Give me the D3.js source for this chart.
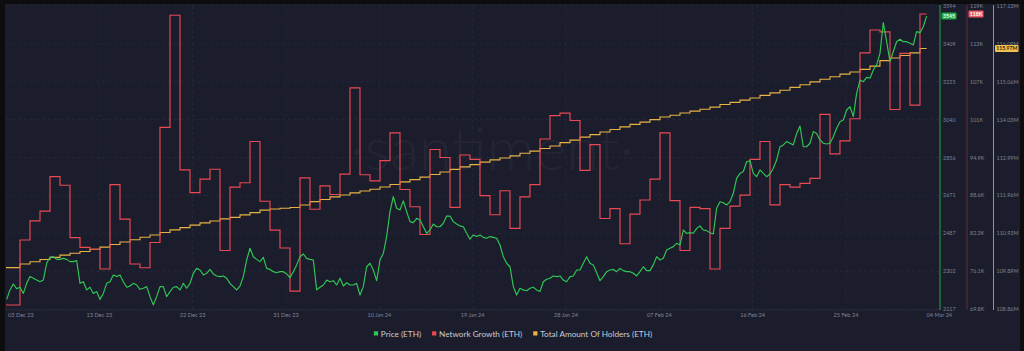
<!DOCTYPE html>
<html><head><meta charset="utf-8">
<script src="https://cdn.jsdelivr.net/npm/d3@7"></script>
<style>
html,body{margin:0;padding:0;background:#0d0d10;overflow:hidden;}
svg{display:block;}
text{font-family:Lato,"Open Sans",sans-serif;}
</style></head><body>
<svg id="c" width="1024" height="351"></svg>
<script>
// ---------- data ----------
const xTickLabels = ['03 Dec 23','13 Dec 23','22 Dec 23','31 Dec 23','10 Jan 24','19 Jan 24','28 Jan 24','07 Feb 24','16 Feb 24','25 Feb 24','04 Mar 24'];
const priceTicks = [2117, 2302, 2487, 2671, 2856, 3040, 3225, 3409, 3594];
const growthTickLabels = ['69.8K','76.1K','82.3K','88.6K','94.9K','101K','107K','113K','119K'];
const growthDomain = [69.8, 119];
const holdersTickLabels = ['108.86M','109.89M','110.93M','111.96M','112.99M','114.03M','115.06M','116.09M','117.13M'];
const holdersDomain = [108.86, 117.13];

// time axis in days (day 0 = first full day in view)
const viewDays = [-1.4, 91.933];
const priceStartDay = -4/3, priceStepDay = 1/3;   // 8-hourly samples
const dailyStartDay = -1.4, dataEndDay = 90.667;

// Price (ETH), USD, 8-hourly
const price = [
2164,2210,2239,2216,2223,2193,2242,2275,2267,2258,
2250,2258,2340,2369,2372,2359,2359,2364,2359,2348,
2348,2353,2242,2250,2210,2223,2193,2202,2164,2193,
2242,2250,2283,2275,2283,2250,2223,2229,2242,2234,
2213,2218,2226,2177,2137,2177,2226,2226,2177,2202,
2223,2226,2210,2242,2218,2242,2291,2315,2307,2283,
2291,2310,2288,2278,2275,2278,2267,2242,2226,2210,
2229,
2275,2356,2413,2372,2359,2348,2369,2315,2310,2299,
2294,2299,2299,2288,2270,2299,2332,2372,2385,2364,
2359,2356,2210,2223,2234,2258,2250,2255,2234,2267,
2229,2245,2234,2234,2242,2185,2226,2323,2340,2307,
2255,2356,2388,2470,2592,2665,2608,2600,2644,2592,
2543,2538,2559,2551,2518,2486,2502,2531,2518,2518,
2535,2570,2570,2543,2531,2522,2518,2486,2457,2478,
2470,2478,2466,2462,2470,2466,2462,2429,2372,2340,
2323,2226,2185,2218,2210,2206,2218,2223,2210,2202,
2250,2262,2267,2278,2275,2278,2258,2250,2275,2278,
2307,2307,2340,2372,2340,2332,2294,2255,2275,2299,
2307,2310,2299,2315,2304,2299,2299,2291,2278,2299,
2323,2304,2304,2332,2372,2356,2364,2405,2413,2421,
2437,2429,2502,2486,2489,2486,2510,2522,2502,2499,
2489,
2483,2608,2640,2635,2624,2640,2681,2754,2778,2787,
2835,2840,2778,2762,2795,2778,2762,2775,2803,2843,
2908,2917,2933,2925,2917,2973,3009,2908,2908,2925,
2982,2973,2941,2925,2921,2925,2957,2998,3030,3038,
3087,3103,3055,3168,3233,3225,3246,3242,3282,3307,
3363,3513,3420,3323,3372,3420,3432,3420,3420,3412,
3404,3469,3464,3493,3545
];

// Network Growth (ETH), thousands, daily
const growth = [
70.45,81.0,84.1,85.7,91.3,89.9,81.4,79.8,79.5,76.3,
90.0,84.4,77.1,76.5,80.6,99.3,117.5,92.4,88.7,90.9,
92.5,79.3,89.6,90.3,97.0,87.3,82.6,79.7,72.7,91.1,
86.0,89.8,88.4,91.7,105.7,91.6,90.6,93.9,98.4,89.2,
86.4,81.9,95.7,94.4,86.3,94.8,94.1,88.2,85.1,89.0,
82.9,88.0,90.0,97.4,101.2,101.6,100.4,92.3,96.5,84.5,
86.1,80.4,85.2,87.5,90.9,98.4,87.4,79.3,86.3,86.1,
76.3,82.9,86.5,88.3,94.1,97.0,86.7,90.0,89.6,90.2,
91.0,101.4,95.0,97.1,100.7,111.4,115.1,114.8,102.2,111.3,
102.9,117.7
];

// Total Amount Of Holders (ETH), millions, daily
const holders = [
109.99,110.09,110.15,110.21,110.27,110.33,110.38,110.43,110.49,110.55,
110.62,110.69,110.75,110.82,110.88,110.95,111.02,111.08,111.15,111.21,
111.26,111.32,111.36,111.43,111.49,111.56,111.59,111.61,111.63,111.70,
111.79,111.85,111.92,111.97,112.03,112.08,112.13,112.19,112.26,112.33,
112.39,112.46,112.53,112.60,112.67,112.74,112.80,112.87,112.93,112.98,
113.04,113.11,113.17,113.24,113.31,113.40,113.47,113.55,113.62,113.69,
113.76,113.83,113.90,113.96,114.03,114.10,114.15,114.21,114.26,114.31,
114.37,114.44,114.50,114.56,114.62,114.69,114.76,114.83,114.91,114.98,
115.06,115.13,115.20,115.27,115.33,115.40,115.49,115.64,115.71,115.78,
115.85,115.97
];

const seriesNames = ['Price (ETH)','Network Growth (ETH)','Total Amount Of Holders (ETH)'];
const seriesColors = ['#30c853','#eb4a52','#e9b443'];

// ---------- layout ----------
const svg = d3.select('#c');
const L = 6, R = 939.3, T = 6, B = 309;

svg.append('rect').attr('x',5).attr('y',4).attr('width',1015).attr('height',347).attr('fill','#1b1d2d');

const x = d3.scaleLinear().domain(viewDays).range([L, R]);
const yP = d3.scaleLinear().domain([priceTicks[0], priceTicks[priceTicks.length-1]]).range([B, T]);
const yG = d3.scaleLinear().domain(growthDomain).range([B, T]);
const yH = d3.scaleLinear().domain(holdersDomain).range([B, T]);

const nT = priceTicks.length - 1;
const frac = d3.range(nT + 1).map(i => i / nT);

// watermark
svg.append('text').attr('x', 492).attr('y', 170).attr('text-anchor','middle')
  .attr('font-size', 60).attr('font-weight', 300).attr('fill', 'rgba(255,255,255,0.035)')
  .text('·santiment·');

// grid
const grid = svg.append('g').attr('stroke','#2a2d3f').attr('stroke-width',0.7).attr('stroke-dasharray','3,3');
frac.forEach(f => {
  const yy = yP(priceTicks[0] + f * (priceTicks[nT] - priceTicks[0]));
  grid.append('line').attr('x1', L).attr('x2', 940).attr('y1', yy).attr('y2', yy);
});
const xTickDays = xTickLabels.map((_, i) => viewDays[0] + i * (viewDays[1] - viewDays[0]) / (xTickLabels.length - 1));
xTickDays.forEach((d, i) => {
  if (i === 0 || i === xTickDays.length - 1) return;
  grid.append('line').attr('x1', x(d)).attr('x2', x(d)).attr('y1', T).attr('y2', B + 1);
});
// bottom axis line
svg.append('line').attr('x1', L).attr('x2', 940).attr('y1', 310).attr('y2', 310).attr('stroke','#2c2f42').attr('stroke-width',0.8);

// x labels
svg.append('g').selectAll('text').data(xTickLabels).join('text')
  .attr('x', (d, i) => i === 0 ? 8 : x(xTickDays[i]))
  .attr('y', 317)
  .attr('text-anchor', (d, i) => i === 0 ? 'start' : 'middle')
  .attr('font-size', 5.6).attr('fill', '#7f8393').text(d => d);

// lines
svg.append('clipPath').attr('id','pc').append('rect').attr('x',L).attr('y',0).attr('width',R-L).attr('height',B+3);
const plot = svg.append('g').attr('clip-path','url(#pc)');

const dailyDay = i => i === 0 ? dailyStartDay : i - 1;
const stepPts = arr => { const p = arr.map((v, i) => [dailyDay(i), v]); p.push([dataEndDay, arr[arr.length-1]]); return p; };

plot.append('path').datum(stepPts(holders))
  .attr('d', d3.line().x(d => x(d[0])).y(d => yH(d[1])).curve(d3.curveStepAfter))
  .attr('fill','none').attr('stroke', seriesColors[2]).attr('stroke-width',1.1);

plot.append('path').datum(stepPts(growth))
  .attr('d', d3.line().x(d => x(d[0])).y(d => yG(d[1])).curve(d3.curveStepAfter))
  .attr('fill','none').attr('stroke', seriesColors[1]).attr('stroke-width',1.15);

plot.append('path').datum(price)
  .attr('d', d3.line().x((v, i) => x(priceStartDay + i * priceStepDay)).y(v => yP(v)))
  .attr('fill','none').attr('stroke', seriesColors[0]).attr('stroke-width',1.15).attr('stroke-linejoin','round');

// right axes
const axes = [
  {x: 940, color: '#2aa44b', labels: priceTicks.map(String), scale: yP, dom: [priceTicks[0], priceTicks[nT]]},
  {x: 967, color: '#6b2736', labels: growthTickLabels, scale: yG, dom: growthDomain},
  {x: 993.5, color: '#b8913c', labels: holdersTickLabels, scale: yH, dom: holdersDomain}
];
axes.forEach(a => {
  svg.append('line').attr('x1', a.x).attr('x2', a.x).attr('y1', 5).attr('y2', 310).attr('stroke', a.color).attr('stroke-width', 1);
  svg.append('g').selectAll('text').data(a.labels).join('text')
    .attr('x', a.x + 3).attr('y', (d, i) => a.scale(a.dom[0] + frac[i] * (a.dom[1] - a.dom[0])) + 2)
    .attr('font-size', 5.4).attr('fill', '#7f8393').text(d => d);
});

// last-value badges
const badges = [
  {x: 941.5, w: 15, y: yP(price[price.length-1]), fill: '#22a845', tc: '#e8ffe9', t: String(price[price.length-1])},
  {x: 968.5, w: 15, y: yG(growth[growth.length-1]), fill: '#ee5a63', tc: '#ffffff', t: Math.round(growth[growth.length-1]) + 'K'},
  {x: 995, w: 23.5, y: yH(holders[holders.length-1]), fill: '#f2c14f', tc: '#2a2410', t: holders[holders.length-1].toFixed(2) + 'M'}
];
badges.forEach(b => {
  svg.append('rect').attr('x', b.x).attr('y', b.y - 3.5).attr('width', b.w).attr('height', 7).attr('rx', 1).attr('fill', b.fill);
  svg.append('text').attr('x', b.x + b.w / 2).attr('y', b.y + 1.9).attr('text-anchor','middle')
    .attr('font-size', 5.2).attr('font-weight', 700).attr('fill', b.tc).text(b.t);
});

// legend
const lg = svg.append('g');
let cx = 0;
seriesNames.forEach((n, i) => {
  lg.append('rect').attr('x', cx).attr('y', -5.2).attr('width', 4.2).attr('height', 4.2).attr('fill', seriesColors[i]);
  const t = lg.append('text').attr('x', cx + 7).attr('y', 0).attr('font-size', 8.2).attr('fill', '#c9cad3').text(n);
  cx += 7 + t.node().getComputedTextLength() + 11;
});
const lw = cx - 11;
lg.attr('transform', `translate(${513 - lw / 2},336.5)`);
</script>
</body></html>
